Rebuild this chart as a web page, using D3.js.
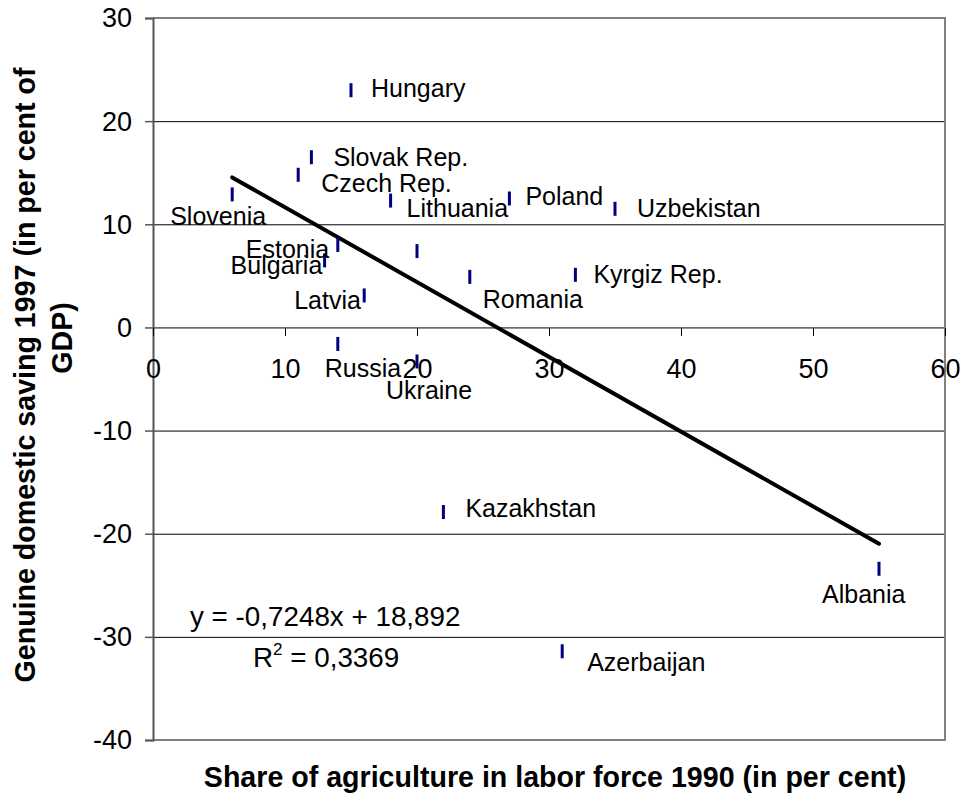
<html>
<head>
  <meta charset="utf-8">
  <title></title>
  <style>
    body { margin: 0; background: #fff; }
    text { font-family: Arial, "Liberation Sans", sans-serif; fill: #000; }
  </style>
</head>
<body>
<script src="https://cdn.jsdelivr.net/npm/d3@7/dist/d3.min.js"></script>
<script>
// data
var countries = ['Hungary', 'Slovak Rep.', 'Czech Rep.', 'Slovenia', 'Lithuania', 'Poland', 'Uzbekistan',
  'Estonia', 'Bulgaria', '', 'Latvia', 'Romania', 'Kyrgiz Rep.', 'Russia', 'Ukraine', 'Kazakhstan',
  'Albania', 'Azerbaijan']
var agriShare = [15, 12, 11, 6, 18, 27, 35, 14, 13, 20, 16, 24, 32, 14, 20, 22, 55, 31]
var saving = [23, 16.5, 14.8, 12.9, 12.3, 12.5, 11.5, 8, 6.5, 7.4, 3.1, 4.9, 5.1, -1.6, -3.3, -17.9, -23.4, -31.4]
var yTicks = [-40, -30, -20, -10, 0, 10, 20, 30]
var xTicks = [0, 10, 20, 30, 40, 50, 60]
var slope = -0.7248
var intercept = 18.892
var r2 = 0.3369

// label placement (px from the point): where the text starts and its baseline
var labelOffset = [[20, 7], [22, 9], [23, 17], [-62, 31], [16, 16], [16, 6], [22, 8],
  [-92, 13], [-94, 14], [0, 0], [-70, 14], [13, 31], [18, 8], [-13, 33], [-31, 38], [22, 5],
  [-57, 34], [25, 20]]

var width = 961
var height = 807
var plot = {left: 153, right: 945, top: 18, bottom: 740}
var font = 'Arial, "Liberation Sans", sans-serif'

var svg = d3.select('body').append('svg')
  .attr('width', width)
  .attr('height', height)

var x = d3.scaleLinear().domain([0, 60]).range([plot.left, plot.right])
var y = d3.scaleLinear().domain([-40, 30]).range([plot.bottom, plot.top])

// gridlines
svg.append('g')
  .selectAll('line')
  .data(yTicks.filter(function(d){ return d > -40 && d < 30 }))
  .enter().append('line')
  .attr('x1', plot.left).attr('x2', plot.right)
  .attr('y1', function(d){ return y(d) + 0.5 }).attr('y2', function(d){ return y(d) + 0.5 })
  .attr('stroke', '#000').attr('stroke-width', 1)

// frame (top, right, bottom)
svg.append('path')
  .attr('d', 'M' + plot.left + ',' + plot.top + 'H' + plot.right + 'V' + plot.bottom + 'H' + plot.left)
  .attr('fill', 'none').attr('stroke', '#808080').attr('stroke-width', 2)

var hyphen = function(d){ return String(d) }

// y axis
var yAxis = d3.axisLeft(y).tickValues(yTicks).tickSize(8).tickPadding(13).tickFormat(hyphen)
var gy = svg.append('g').attr('transform', 'translate(' + plot.left + ',0)').call(yAxis)
gy.select('.domain').attr('stroke', '#555').attr('stroke-width', 2)
gy.selectAll('.tick line').attr('stroke', '#555').attr('stroke-width', 1.5)
gy.selectAll('.tick text').attr('font-size', 27).attr('font-family', font).attr('dy', '0.33em')

// x axis along zero
var xAxis = d3.axisBottom(x).tickValues(xTicks).tickSize(8).tickPadding(23).tickFormat(hyphen)
var gx = svg.append('g').attr('transform', 'translate(0,' + (y(0) + 0.5) + ')').call(xAxis)
gx.select('.domain').remove()
gx.selectAll('.tick line').attr('stroke', '#000').attr('stroke-width', 1)
gx.selectAll('.tick text').attr('font-size', 27).attr('font-family', font)

// trend line
var xr = d3.extent(agriShare)
svg.append('line')
  .attr('x1', x(xr[0])).attr('y1', y(slope * xr[0] + intercept))
  .attr('x2', x(xr[1])).attr('y2', y(slope * xr[1] + intercept))
  .attr('stroke', '#000').attr('stroke-width', 4).attr('stroke-linecap', 'round')

// points
var idx = d3.range(countries.length)
svg.append('g').selectAll('rect')
  .data(idx).enter().append('rect')
  .attr('x', function(i){ return x(agriShare[i]) - 1.5 })
  .attr('y', function(i){ return y(saving[i]) - 7 })
  .attr('width', 3).attr('height', 14)
  .attr('fill', '#000080')

// point labels
svg.append('g').selectAll('text')
  .data(idx.filter(function(i){ return countries[i] !== '' })).enter().append('text')
  .attr('x', function(i){ return x(agriShare[i]) + labelOffset[i][0] })
  .attr('y', function(i){ return y(saving[i]) + labelOffset[i][1] })
  .attr('font-size', 25)
  .text(function(i){ return countries[i] })

// regression equation
var fmt = function(v){ return String(v).replace('.', ',') }
var eq = svg.append('g').attr('font-size', 27.8)
eq.append('text').attr('x', plot.left + 37).attr('y', 626)
  .text('y = ' + fmt(slope) + 'x + ' + fmt(intercept))
var r = eq.append('text').attr('x', plot.left + 100).attr('y', 667)
r.append('tspan').text('R')
r.append('tspan').attr('font-size', 17).attr('dy', -12).text('2')
r.append('tspan').attr('dy', 12).text(' = ' + fmt(r2))

// axis titles
svg.append('text')
  .attr('x', 555).attr('y', 787)
  .attr('text-anchor', 'middle')
  .attr('font-size', 28.6).attr('font-weight', 'bold')
  .text('Share of agriculture in labor force 1990 (in per cent)')

var yt = svg.append('g').attr('font-size', 28.6).attr('font-weight', 'bold').attr('text-anchor', 'middle')
yt.append('text').attr('transform', 'translate(35,375) rotate(-90)')
  .text('Genuine domestic saving 1997 (in per cent of')
yt.append('text').attr('transform', 'translate(72,338) rotate(-90)')
  .text('GDP)')
</script>
</body>
</html>
